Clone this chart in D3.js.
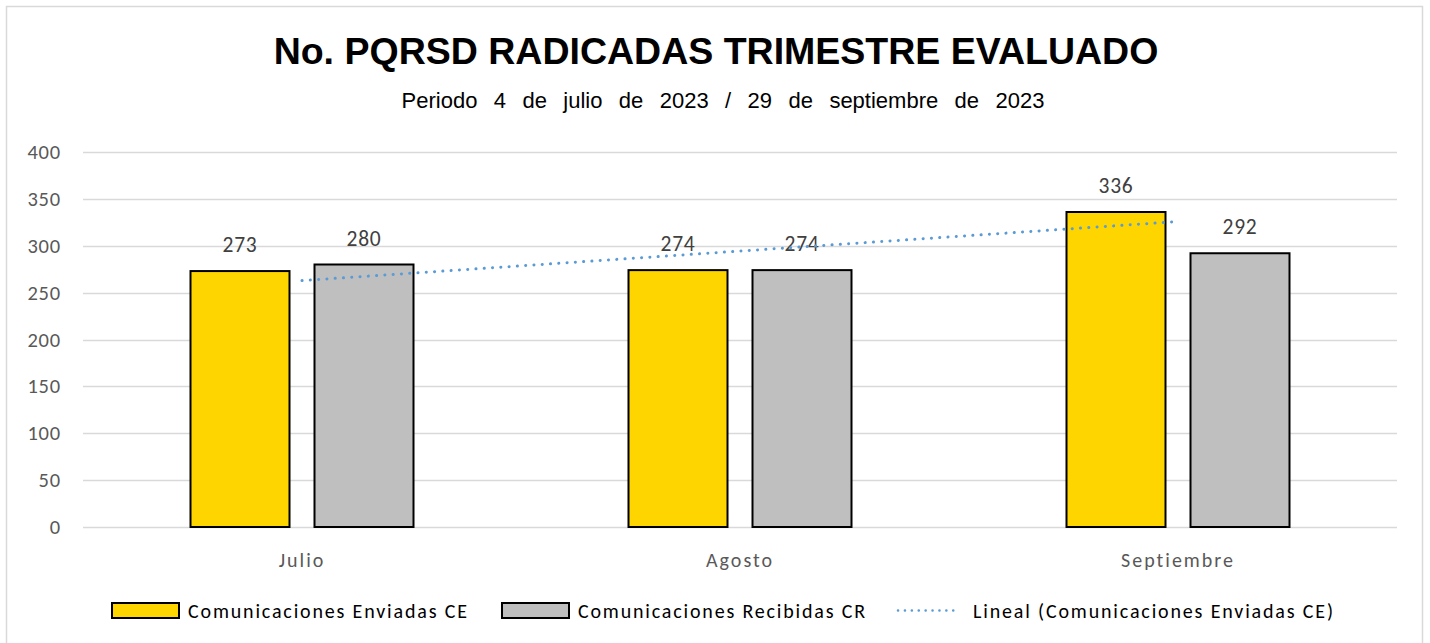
<!DOCTYPE html>
<html>
<head>
<meta charset="utf-8">
<script src="https://cdn.jsdelivr.net/npm/d3@7"></script>
<style>
  body { margin: 0; background: #fff; }
  svg { display: block; }
</style>
</head>
<body>
<svg id="chart" width="1430" height="643"></svg>
<script>
// data
const months = ['Julio', 'Agosto', 'Septiembre'];
const enviadas = [273, 274, 336];
const recibidas = [280, 274, 292];
const yTicks = [0, 50, 100, 150, 200, 250, 300, 350, 400];
const seriesNames = ['Comunicaciones Enviadas CE', 'Comunicaciones Recibidas CR', 'Lineal (Comunicaciones Enviadas CE)'];

const width = 1430;
const height = 643;
const margin = { top: 152, right: 33, bottom: 116, left: 83 };
const labelFont = 'Carlito, Lato, "Open Sans", sans-serif';

const svg = d3.select('#chart');

// outer chart frame
svg.append('rect')
    .attr('x', 6.5).attr('y', 6.5)
    .attr('width', width - 14).attr('height', height + 10)
    .attr('fill', '#fff')
    .attr('stroke', '#d9d9d9')
    .attr('stroke-width', 1.5);

svg.append('text')
    .attr('x', 716).attr('y', 64)
    .attr('text-anchor', 'middle')
    .attr('font-family', '"Liberation Sans", Arial, sans-serif')
    .attr('font-weight', 'bold')
    .attr('font-size', 37.5)
    .attr('fill', '#000')
    .text('No. PQRSD RADICADAS TRIMESTRE EVALUADO');

svg.append('text')
    .attr('x', 723).attr('y', 108)
    .attr('text-anchor', 'middle')
    .attr('font-family', '"Liberation Sans", Arial, sans-serif')
    .attr('font-size', 22)
    .attr('word-spacing', 10.3)
    .attr('fill', '#000')
    .text('Periodo 4 de julio de 2023 / 29 de septiembre de 2023');

const x = d3.scaleBand()
    .domain(months)
    .range([margin.left, width - margin.right]);

const y = d3.scaleLinear()
    .domain([0, 400])
    .range([height - margin.bottom, margin.top]);

// gridlines
svg.append('g')
    .selectAll('line')
    .data(yTicks)
    .join('line')
    .attr('x1', margin.left).attr('x2', width - margin.right)
    .attr('y1', d => Math.round(y(d)) + 0.5)
    .attr('y2', d => Math.round(y(d)) + 0.5)
    .attr('stroke', '#d9d9d9')
    .attr('stroke-width', 1.5);

// y axis labels
const yAxis = svg.append('g')
    .attr('transform', `translate(${margin.left},0)`)
    .call(d3.axisLeft(y).tickValues(yTicks).tickSize(0).tickPadding(22));
yAxis.select('.domain').remove();
yAxis.selectAll('text')
    .attr('font-family', labelFont)
    .attr('font-size', 20.5)
    .attr('letter-spacing', 0.8)
    .attr('fill', '#595959');

// x axis labels
const xAxis = svg.append('g')
    .attr('transform', `translate(0,${height - margin.bottom})`)
    .call(d3.axisBottom(x).tickSize(0).tickPadding(26));
xAxis.select('.domain').remove();
xAxis.selectAll('text')
    .attr('font-family', labelFont)
    .attr('font-size', 20)
    .attr('letter-spacing', 2)
    .attr('fill', '#595959');

const barW = 99;
const offset = 62;
const series = [
    { values: enviadas, fill: '#ffd500', dx: -offset },
    { values: recibidas, fill: '#bfbfbf', dx: offset }
];

series.forEach(s => {
    const g = svg.append('g');
    g.selectAll('rect')
        .data(months)
        .join('rect')
        .attr('x', (d, i) => x(d) + x.bandwidth() / 2 + s.dx - barW / 2)
        .attr('y', (d, i) => y(s.values[i]))
        .attr('width', barW)
        .attr('height', (d, i) => y(0) - y(s.values[i]))
        .attr('fill', s.fill)
        .attr('stroke', '#000')
        .attr('stroke-width', 2);
    g.selectAll('text')
        .data(months)
        .join('text')
        .attr('x', (d, i) => x(d) + x.bandwidth() / 2 + s.dx)
        .attr('y', (d, i) => y(s.values[i]) - 19)
        .attr('text-anchor', 'middle')
        .attr('font-family', labelFont)
        .attr('font-size', 21.5)
        .attr('letter-spacing', 0.8)
        .attr('fill', '#404040')
        .text((d, i) => s.values[i]);
});

// linear trendline of enviadas (least squares)
const n = enviadas.length;
const xs = d3.range(1, n + 1);
const mx = d3.mean(xs), my = d3.mean(enviadas);
const slope = d3.sum(xs, (v, i) => (v - mx) * (enviadas[i] - my)) / d3.sum(xs, v => (v - mx) ** 2);
const intercept = my - slope * mx;
const trend = months.map((m, i) => [x(m) + x.bandwidth() / 2, y(intercept + slope * (i + 1))]);

svg.append('path')
    .datum(trend)
    .attr('d', d3.line())
    .attr('fill', 'none')
    .attr('stroke', '#5b9bd5')
    .attr('stroke-width', 3)
    .attr('stroke-linecap', 'round')
    .attr('stroke-dasharray', '0.1 8.2');

// legend
const legend = svg.append('g')
    .attr('font-family', labelFont)
    .attr('font-size', 20)
    .attr('fill', '#000');

const legendItems = [
    { x: 112, type: 'rect', fill: '#ffd500', textX: 188, textW: 279 },
    { x: 502, type: 'rect', fill: '#bfbfbf', textX: 578, textW: 287 },
    { x: 898, type: 'line', textX: 973, textW: 360 }
];

legendItems.forEach((it, i) => {
    if (it.type === 'rect') {
        legend.append('rect')
            .attr('x', it.x).attr('y', 603)
            .attr('width', 67).attr('height', 15)
            .attr('fill', it.fill)
            .attr('stroke', '#000')
            .attr('stroke-width', 2);
    } else {
        legend.append('line')
            .attr('x1', it.x).attr('x2', it.x + 62)
            .attr('y1', 610.5).attr('y2', 610.5)
            .attr('stroke', '#5b9bd5')
            .attr('stroke-width', 2.5)
            .attr('stroke-linecap', 'round')
            .attr('stroke-dasharray', '0.1 6.8');
    }
    legend.append('text')
        .attr('x', it.textX).attr('y', 618)
        .attr('textLength', it.textW)
        .attr('lengthAdjust', 'spacing')
        .attr('fill', '#000')
        .text(seriesNames[i]);
});
</script>
</body>
</html>
